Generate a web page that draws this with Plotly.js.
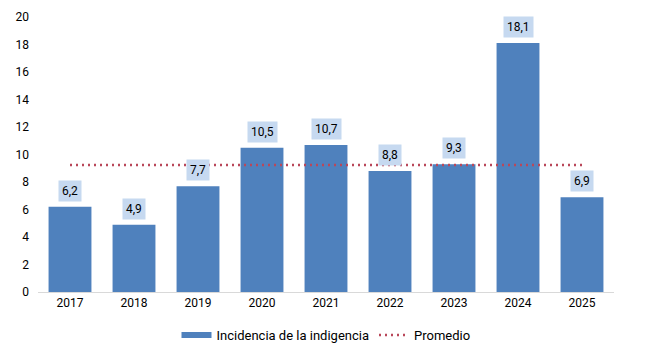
<!DOCTYPE html>
<html><head><meta charset="utf-8">
<script src="https://cdn.plot.ly/plotly-3.0.1.min.js"></script>
<style>html,body{margin:0;padding:0;background:#fff}</style>
</head><body><div id="c" style="width:645px;height:352px"></div>
<script>
const years = ['2017','2018','2019','2020','2021','2022','2023','2024','2025'];
const incidencia = [6.2, 4.9, 7.7, 10.5, 10.7, 8.8, 9.3, 18.1, 6.9];
const promedio = [9.23, 9.23, 9.23, 9.23, 9.23, 9.23, 9.23, 9.23, 9.23];
const yTicks = [0,2,4,6,8,10,12,14,16,18,20];

const fmt = v => v.toFixed(1).replace('.', ',');
const barColor = '#4f81bd';

const traces = [
  {type:'bar', x:years, y:incidencia, name:'Incidencia de la indigencia',
   marker:{color:barColor}, width:0.67, hoverinfo:'none', showlegend:false},
  {type:'scatter', mode:'lines', x:[null], y:[null], name:'Incidencia de la indigencia',
   line:{color:barColor, width:6}, hoverinfo:'none', showlegend:true},
  {type:'scatter', mode:'lines', x:years, y:promedio, name:'Promedio',
   line:{color:'#b9475a', dash:'2px,4px', width:2.5}, hoverinfo:'none'}
];

const annotations = years.map((yr,i)=>({
  x:i, y:incidencia[i], xref:'x', yref:'y', text:fmt(incidencia[i]),
  showarrow:false, yanchor:'bottom', yshift:5,
  bgcolor:'#c6d9f0', borderpad:3,
  font:{family:'Roboto', size:12, color:'#000'}
}));

const layout = {
  width:645, height:352,
  margin:{l:38, r:31, t:17, b:60, autoexpand:false},
  paper_bgcolor:'#fff', plot_bgcolor:'#fff',
  font:{family:'Roboto', size:12, color:'#000'},
  xaxis:{type:'category', range:[-0.5, years.length-0.5], autorange:false, showgrid:false,
         showline:true, linecolor:'#d9d9d9', linewidth:1, ticks:'', tickfont:{size:12}, zeroline:false,
         automargin:false},
  yaxis:{range:[0,20], autorange:false, tickvals:yTicks, showgrid:false, zeroline:false, showline:false,
         ticks:'', tickfont:{size:12}, ticklabelstandoff:8, automargin:false},
  showlegend:true,
  legend:{orientation:'h', x:0.5, xanchor:'center', y:-0.157, yanchor:'middle',
          font:{size:13}, tracegroupgap:0},
  annotations:annotations,
  bargap:0.33
};
Plotly.newPlot('c', traces, layout, {displayModeBar:false, staticPlot:true});
</script></body></html>
